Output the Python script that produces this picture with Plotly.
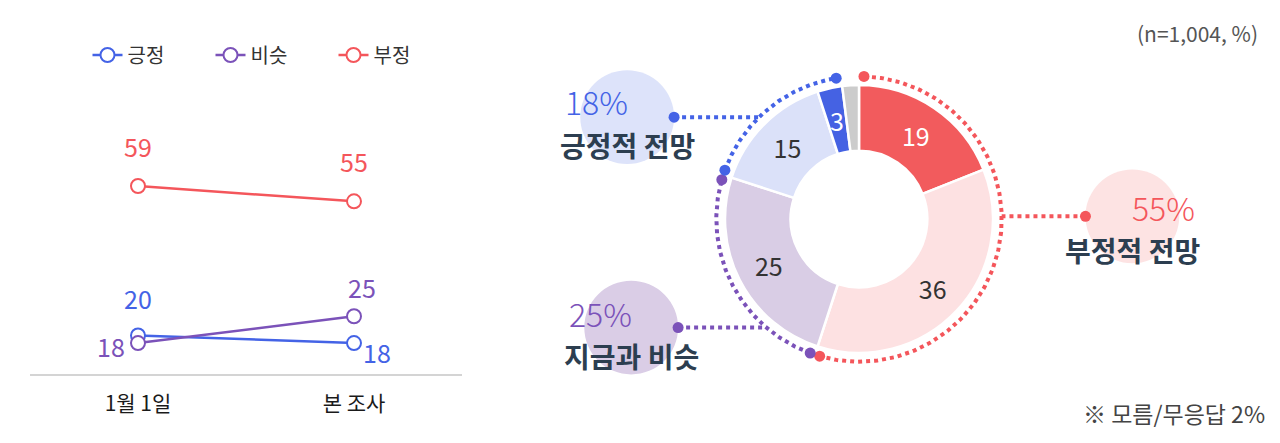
import numpy as np
import plotly.graph_objects as go

# Palette / font
FONT = "Noto Sans CJK KR"
BLUE = "#4463e6"
PURPLE = "#7b52b9"
RED = "#f4565b"
DARK = "#2c3e50"
GRAY_TXT = "#555555"

# --- trend (line chart) ---
categories = ["1월 1일", "본 조사"]
series_names = ["긍정", "비슷", "부정"]
positive = [20, 18]
similar = [18, 25]
negative = [59, 55]

# --- donut (current survey), clockwise from 12 o'clock ---
slice_labels = ["매우 부정", "다소 부정", "지금과 비슷", "다소 긍정", "매우 긍정", "모름/무응답"]
slice_values = [19, 36, 25, 15, 3, 2]
slice_colors = ["#f25b5d", "#fde1e2", "#d9cde5", "#dbe1f9", "#4562e3", "#cccccc"]
slice_text_colors = ["white", "#333333", "#333333", "#333333", "white", "#333333"]

# donut groups: (first slice, last slice, title, colour, bubble colour)
groups = [
    (0, 1, "부정적 전망", RED, "#fde3e3"),
    (2, 2, "지금과 비슷", PURPLE, "#dacde6"),
    (3, 4, "긍정적 전망", BLUE, "#dde3fa"),
]
# bubble centre (donut-radius units, donut centre = 0,0) and vertical text shift
bubble_pos = [(2.04, 0.02, -0.04), (-1.70, -0.81, 0.0), (-1.73, 0.76, 0.01)]
BUBBLE_R = 0.35
ARC_R = 1.065
HOLE = 0.51

# pixel offsets of the line-chart value labels
label_offsets = {
    ("긍정", 0): (0, 37), ("긍정", 1): (23, -9),
    ("비슷", 0): (-27, -3), ("비슷", 1): (8, 29),
    ("부정", 0): (0, 40), ("부정", 1): (0, 40),
}

fig = go.Figure()

# line chart
for name, vals, color in zip(series_names, [positive, similar, negative], [BLUE, PURPLE, RED]):
    fig.add_trace(
        go.Scatter(
            x=categories,
            y=vals,
            name=name,
            mode="lines+markers",
            line=dict(color=color, width=2.5),
            marker=dict(symbol="circle", size=14, color="white", line=dict(color=color, width=2)),
            xaxis="x",
            yaxis="y",
            hoverinfo="skip",
        )
    )
    for i, v in enumerate(vals):
        dx, dy = label_offsets[(name, i)]
        fig.add_annotation(
            x=categories[i], y=v, xref="x", yref="y", text=str(v), showarrow=False,
            xshift=dx, yshift=dy, font=dict(family=FONT, size=25, color=color),
        )

# donut
thin = [v < 5 for v in slice_values]
fig.add_trace(
    go.Pie(
        labels=slice_labels,
        values=slice_values,
        text=["" if t else str(v) for v, t in zip(slice_values, thin)],
        textinfo="text",
        textposition="inside",
        insidetextorientation="horizontal",
        insidetextfont=dict(family=FONT, size=25, color=slice_text_colors),
        marker=dict(colors=slice_colors, line=dict(color="white", width=2.5)),
        hole=HOLE,
        sort=False,
        direction="clockwise",
        rotation=0,
        showlegend=False,
        domain=dict(x=[(859 - 134) / 1280, (859 + 134) / 1280], y=[(224 - 134) / 443, (224 + 134) / 443]),
        hoverinfo="skip",
    )
)

cum = np.cumsum([0] + slice_values) / sum(slice_values) * 360.0

# labels of slices too thin for plotly's inside text (the "3"; the grey slice stays blank)
r_mid = (1 + HOLE) / 2
for k, (v, t) in enumerate(zip(slice_values, thin)):
    if t and slice_labels[k] != "모름/무응답":
        a = np.radians((cum[k] + cum[k + 1]) / 2)
        fig.add_annotation(
            x=r_mid * np.sin(a), y=r_mid * np.cos(a), xref="x2", yref="y2", text=str(v),
            showarrow=False, font=dict(family=FONT, size=25, color=slice_text_colors[k]),
        )

# dotted arcs, leader lines and bubbles (x2/y2 axes, unit = donut radius)
pad = 2.0
shapes = []
for (i0, i1, title, color, bcolor), (bx, by, tdy) in zip(groups, bubble_pos):
    a0, a1 = cum[i0] + pad, cum[i1 + 1] - pad
    th = np.radians(np.linspace(a0, a1, 200))
    fig.add_trace(
        go.Scatter(
            x=ARC_R * np.sin(th), y=ARC_R * np.cos(th), mode="lines",
            line=dict(color=color, width=4, dash="dot"),
            xaxis="x2", yaxis="y2", showlegend=False, hoverinfo="skip",
        )
    )
    side = 1 if bx > 0 else -1
    x_arc = side * np.sqrt(ARC_R ** 2 - by ** 2)
    x_dot = bx - side * BUBBLE_R
    fig.add_trace(
        go.Scatter(
            x=[x_dot, x_arc], y=[by, by], mode="lines",
            line=dict(color=color, width=4, dash="dot"),
            xaxis="x2", yaxis="y2", showlegend=False, hoverinfo="skip",
        )
    )
    fig.add_trace(
        go.Scatter(
            x=[ARC_R * np.sin(th[0]), ARC_R * np.sin(th[-1]), x_dot],
            y=[ARC_R * np.cos(th[0]), ARC_R * np.cos(th[-1]), by],
            mode="markers", marker=dict(color=color, size=11),
            xaxis="x2", yaxis="y2", showlegend=False, hoverinfo="skip",
        )
    )
    shapes.append(
        dict(type="circle", xref="x2", yref="y2", x0=bx - BUBBLE_R, x1=bx + BUBBLE_R,
             y0=by - BUBBLE_R, y1=by + BUBBLE_R, fillcolor=bcolor, line=dict(width=0), layer="below")
    )
    share = sum(slice_values[i0:i1 + 1])
    fig.add_annotation(
        x=bx + side * 0.23, y=by + 0.11 + tdy, xref="x2", yref="y2", text=f"{share}%",
        showarrow=False, font=dict(family=FONT, size=32, color=color, weight=300),
    )
    fig.add_annotation(
        x=bx, y=by - 0.215 + tdy, xref="x2", yref="y2", text=title, showarrow=False,
        font=dict(family=FONT, size=28, color=DARK, weight="bold"),
    )

fig.add_annotation(
    x=1260 / 1280, y=1 - 33 / 443, xref="paper", yref="paper", text="(n=1,004, %)", showarrow=False,
    xanchor="right", yanchor="middle", font=dict(family=FONT, size=21, color=GRAY_TXT),
)
fig.add_annotation(
    x=1267 / 1280, y=1 - 413 / 443, xref="paper", yref="paper", text="※ 모름/무응답 2%", showarrow=False,
    xanchor="right", yanchor="middle", font=dict(family=FONT, size=23, color="#444444"),
)

fig.update_layout(
    width=1280,
    height=443,
    margin=dict(l=0, r=0, t=0, b=0),
    paper_bgcolor="white",
    plot_bgcolor="rgba(0,0,0,0)",
    font=dict(family=FONT),
    shapes=shapes,
    showlegend=True,
    legend=dict(
        orientation="h", x=272 / 1280, xanchor="center", y=1 - 55 / 443, yanchor="middle",
        entrywidth=78, font=dict(family=FONT, size=20, color="#333333"),
    ),
    xaxis=dict(
        domain=[30 / 1280, 462 / 1280], range=[-0.5, 1.5], showline=True, linecolor="#d4d4d4",
        linewidth=2, showgrid=False, zeroline=False, ticks="", ticklabelstandoff=10,
        tickfont=dict(family=FONT, size=21, color="#1a1a1a"), fixedrange=True,
    ),
    yaxis=dict(domain=[0.1564, 0.6752], range=[10, 70], visible=False, fixedrange=True),
    xaxis2=dict(domain=[0, 1], anchor="y2", range=[-859 / 134, (1280 - 859) / 134], visible=False),
    yaxis2=dict(domain=[0, 1], anchor="x2", range=[-224 / 134, (443 - 224) / 134], visible=False),
)

fig.write_html(
    "out.html",
    config={"displayModeBar": False},
    post_script="document.body.style.margin = '0';",
)
